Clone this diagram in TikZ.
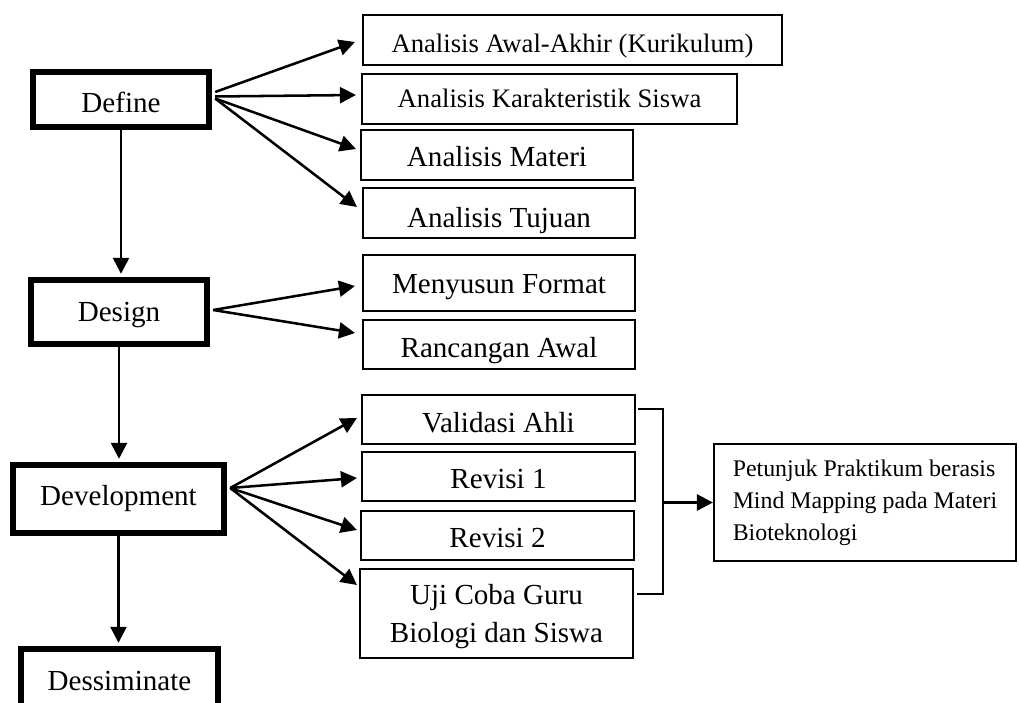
\documentclass[tikz,border=0pt]{standalone}
\usepackage{fontspec}
\setmainfont{Liberation Serif}
\usetikzlibrary{arrows.meta,calc}
\newcommand{\bigf}{\fontsize{21.8pt}{26pt}\selectfont}
\newcommand{\smallf}{\fontsize{20pt}{24pt}\selectfont}
\tikzset{
  stage/.style={draw=black, line width=4.8pt, rectangle, inner sep=0pt, font=\bigf},
  item/.style={draw=black, line width=1.6pt, rectangle, inner sep=0pt, font=\bigf},
  sz/.style 2 args={minimum width=#1*0.75pt, minimum height=#2*0.75pt},
  arr/.style={line width=1.9pt, -{Triangle[length=12pt,width=12pt]}},
  brk/.style={line width=1.5pt}
}
\begin{document}
\begin{tikzpicture}[x=0.75pt,y=-0.75pt]
\useasboundingbox (0,0) rectangle (1019,702);
% stages
\node[stage, sz={176}{55}, text height=20.25pt, text depth=0pt] (define) at (121,99.5) {Define};
\node[stage, sz={176}{64}, text height=13.5pt, text depth=0pt] (design) at (119,312) {Design};
\node[stage, sz={211}{68}, text height=9pt, text depth=0pt] (devel) at (118.5,499) {Development};
\node[stage, sz={197}{70}, text height=9pt, text depth=0pt] (dissem) at (119.5,684) {Dessiminate};
% define items
\node[item, sz={419}{50}, font=\smallf, text height=19.5pt, text depth=0pt] (a1) at (572.5,40) {Analisis Awal-Akhir (Kurikulum)};
\node[item, sz={375}{50}, font=\smallf, text height=13.5pt, text depth=0pt] (a2) at (549.5,99) {Analisis Karakteristik Siswa};
\node[item, sz={272}{50}, text height=18pt, text depth=0pt] (a3) at (497,155) {Analisis Materi};
\node[item, sz={272}{50}, text height=21pt, text depth=0pt] (a4) at (499,213) {Analisis Tujuan};
% design items
\node[item, sz={272}{56}, text height=15pt, text depth=0pt] (m1) at (499,283) {Menyusun Format};
\node[item, sz={272}{49}, text height=18.75pt, text depth=0pt] (m2) at (499,344.5) {Rancangan Awal};
% development items
\node[item, sz={273}{49}, text height=18.75pt, text depth=0pt] (v1) at (498.5,419.5) {Validasi Ahli};
\node[item, sz={273}{49}, text height=17.25pt, text depth=0pt] (v2) at (498.5,476.5) {Revisi 1};
\node[item, sz={273}{49}, text height=17.25pt, text depth=0pt] (v3) at (497.5,535.5) {Revisi 2};
\node[item, sz={273}{89}, align=center, text depth=0pt, font=\fontsize{21.8pt}{28.5pt}\selectfont] (v4) at (496.5,613.5) {Uji Coba Guru\\Biologi dan Siswa};
% result
\node[item, sz={302}{117}, align=left, font=\fontsize{17.9pt}{24pt}\selectfont] (final) at (865,502.5) {Petunjuk Praktikum berasis\\Mind Mapping pada Materi\\Bioteknologi};
% vertical flow
\draw[arr, shorten >=2.25pt] (define.south) -- (define.south |- design.north);
\draw[arr, shorten >=2.25pt] (design.south) -- (design.south |- devel.north);
\draw[arr, shorten >=2.25pt] (devel.south) -- (devel.south |- dissem.north);
% define branches
\draw[arr] ($(define.east)+(3,-7.5)$) -- ($(a1.west)+(-7,2)$);
\draw[arr] ($(define.east)+(3,-3)$) -- ($(a2.west)+(-5,-4)$);
\draw[arr] ($(define.east)+(3,-1)$) -- ($(a3.west)+(-4,-6)$);
\draw[arr] ($(define.east)+(3,-1)$) -- ($(a4.west)+(-5,-6)$);
% design branches
\draw[arr] ($(design.east)+(3,-2)$) -- ($(m1.west)+(-7,3)$);
\draw[arr] ($(design.east)+(3,-2)$) -- ($(m2.west)+(-7,-11.5)$);
% development branches
\draw[arr] ($(devel.east)+(3,-11)$) -- ($(v1.west)+(-4,-1.5)$);
\draw[arr] ($(devel.east)+(3,-11)$) -- ($(v2.west)+(-4,1.5)$);
\draw[arr] ($(devel.east)+(3,-11)$) -- ($(v3.west)+(-3,-5.5)$);
\draw[arr] ($(devel.east)+(3,-11)$) -- ($(v4.west)+(-2,-28.5)$);
% bracket
\draw[brk] ($(v1.east)+(2,-10.5)$) -- ++(25,0) |- ($(v4.east)+(3,-19.5)$);
\coordinate (bj) at (663,502.5);
\draw[arr] (bj) -- (final.west);
\end{tikzpicture}
\end{document}
